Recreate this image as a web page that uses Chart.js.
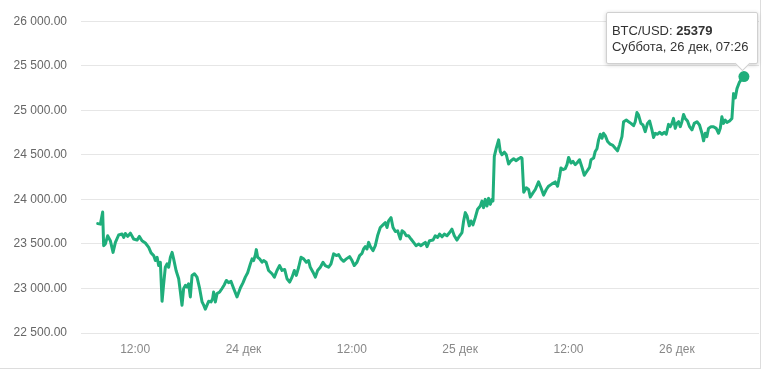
<!DOCTYPE html>
<html>
<head>
<meta charset="utf-8">
<script src="https://cdn.jsdelivr.net/npm/chart.js@4.4.0/dist/chart.umd.min.js"></script>
<style>
    html, body { margin: 0; padding: 0; background: #fff; }
    #wrap {
        position: relative;
        width: 760px;
        height: 368px;
        border-right: 1px solid #ddd;
        border-bottom: 1px solid #ddd;
    }
    #tip {
        position: absolute;
        box-sizing: border-box;
        width: 152px;
        padding: 10px 5px 8px 5px;
        background: #fff;
        border: 1px solid #d0d0d0;
        border-radius: 2px;
        box-shadow: 0 1px 4px rgba(0, 0, 0, 0.2);
        font: 13px "Liberation Sans", Arial, sans-serif;
        line-height: 16px;
        color: #333;
        white-space: nowrap;
    }
    #tip::after {
        content: "";
        position: absolute;
        right: 9px;
        bottom: -6px;
        width: 10px;
        height: 10px;
        background: #fff;
        border-right: 1px solid #d0d0d0;
        border-bottom: 1px solid #d0d0d0;
        transform: rotate(45deg);
    }
</style>
</head>
<body>
<div id="wrap">
    <canvas id="btcChart" width="760" height="368"></canvas>
    <div id="tip"></div>
</div>
<script>
// ore dal 23 dic 00:00
const hours = [
    7.85, 8.15, 8.40, 8.51, 8.70, 8.95, 9.25, 9.55, 9.81, 10.17,
    10.55, 10.73, 10.91, 11.17, 11.47, 11.83, 12.21, 12.47, 12.76, 13.13,
    13.50, 13.76, 14.05, 14.24, 14.43, 14.60, 14.79, 14.98, 15.16, 15.34,
    15.53, 15.71, 15.90, 16.09, 16.26, 16.53, 16.82, 17.01, 17.19, 17.37,
    17.56, 17.75, 17.92, 18.11, 18.30, 18.56, 18.85, 19.14, 19.41, 19.59,
    19.77, 19.96, 20.14, 20.41, 20.58, 20.69, 20.88, 21.07, 21.36, 21.62,
    21.88, 22.10, 22.35, 22.62, 22.91, 23.28, 23.65, 23.95, 24.20, 24.46,
    24.76, 24.95, 25.12, 25.31, 25.42, 25.57, 25.79, 26.05, 26.23, 26.50,
    26.78, 27.16, 27.42, 27.71, 28.00, 28.27, 28.56, 28.82, 29.11, 29.38,
    29.63, 29.85, 30.11, 30.37, 30.66, 30.96, 31.21, 31.40, 31.70, 31.96,
    32.21, 32.51, 32.81, 33.06, 33.43, 33.69, 33.98, 34.28, 34.54, 34.80,
    35.09, 35.39, 35.75, 36.02, 36.27, 36.57, 36.86, 37.13, 37.30, 37.49,
    37.68, 37.86, 38.05, 38.35, 38.60, 38.85, 39.15, 39.45, 39.71, 39.90,
    40.07, 40.34, 40.56, 40.82, 41.07, 41.37, 41.56, 41.81, 42.03, 42.29,
    42.55, 42.84, 43.11, 43.40, 43.66, 43.88, 44.14, 44.33, 44.61, 44.99,
    45.24, 45.50, 45.72, 45.99, 46.24, 46.54, 46.83, 47.09, 47.35, 47.65,
    47.94, 48.20, 48.38, 48.57, 48.76, 49.01, 49.20, 49.42, 49.67, 49.93,
    50.23, 50.42, 50.59, 50.78, 50.97, 51.15, 51.34, 51.52, 51.63, 51.78,
    52.00, 52.26, 52.44, 52.63, 52.89, 53.11, 53.36, 53.63, 53.92, 54.21,
    54.47, 54.74, 54.85, 55.04, 55.32, 55.58, 55.77, 56.06, 56.32, 56.68,
    56.95, 57.24, 57.54, 57.79, 58.17, 58.53, 58.79, 59.01, 59.16, 59.39,
    59.64, 59.83, 60.01, 60.27, 60.49, 60.75, 60.94, 61.22, 61.49, 61.75,
    62.04, 62.33, 62.49, 62.78, 62.96, 63.15, 63.33, 63.52, 63.71, 63.88,
    64.07, 64.33, 64.62, 64.92, 65.18, 65.43, 65.65, 65.92, 66.10, 66.40,
    66.65, 66.92, 67.21, 67.39, 67.58, 67.76, 68.02, 68.25, 68.50, 68.75,
    68.98, 69.24, 69.42, 69.61, 69.86, 70.08, 70.35, 70.60, 70.83, 71.08,
    71.27, 71.46, 71.63, 71.82, 72.01, 72.19, 72.38, 72.56, 72.74, 72.93,
    73.18, 73.41, 73.67, 73.93, 74.23, 74.51, 74.78, 74.96, 75.15, 75.33,
    75.51, 75.78, 76.06, 76.36, 76.62, 76.81, 76.99, 77.17, 77.36, 77.55,
    77.84, 78.10, 78.28, 78.47, 78.66, 78.94, 79.32, 79.43
];

const prices = [
    23728, 23722, 23859, 23480, 23500, 23591, 23536, 23405, 23517, 23600,
    23611, 23573, 23617, 23584, 23621, 23555, 23543, 23584, 23536, 23510,
    23461, 23399, 23369, 23313, 23350, 23257, 23294, 22856, 23053, 23238,
    23276, 23238, 23350, 23405, 23332, 23202, 23109, 22960, 22812, 23000,
    23034, 23016, 23053, 22905, 23146, 23165, 23127, 23000, 22849, 22812,
    22767, 22812, 22856, 22849, 22886, 22960, 22849, 22942, 22960, 23000,
    23042, 23090, 23065, 23079, 23000, 22905, 23005, 23065, 23127, 23176,
    23276, 23332, 23313, 23376, 23436, 23350, 23332, 23294, 23313, 23294,
    23202, 23165, 23127, 23202, 23257, 23202, 23213, 23109, 23071, 23127,
    23202, 23146, 23238, 23350, 23332, 23294, 23313, 23238, 23183, 23127,
    23202, 23238, 23294, 23257, 23238, 23276, 23388, 23369, 23380, 23332,
    23305, 23332, 23357, 23313, 23257, 23294, 23369, 23394, 23443, 23469,
    23443, 23517, 23469, 23424, 23480, 23591, 23684, 23714, 23740, 23684,
    23758, 23795, 23684, 23639, 23647, 23555, 23647, 23628, 23591, 23591,
    23555, 23517, 23480, 23499, 23480, 23499, 23517, 23469, 23536, 23543,
    23591, 23573, 23610, 23580, 23610, 23591, 23628, 23666, 23591, 23543,
    23591, 23628, 23758, 23851, 23814, 23703, 23758, 23714, 23795, 23889,
    23925, 23981, 23907, 24000, 23925, 24011, 23944, 24000, 23981, 24482,
    24575, 24668, 24538, 24501, 24530, 24501, 24397, 24434, 24456, 24434,
    24456, 24471, 24460, 24080, 24130, 24111, 24026, 24073, 24111, 24196,
    24130, 24048, 24111, 24148, 24174, 24196, 24148, 24259, 24352, 24334,
    24345, 24390, 24471, 24408, 24427, 24390, 24408, 24445, 24360, 24271,
    24316, 24360, 24445, 24464, 24538, 24568, 24668, 24731, 24686, 24742,
    24716, 24649, 24619, 24605, 24575, 24545, 24612, 24705, 24872, 24890,
    24872, 24853, 24827, 24872, 24976, 24946, 24853, 24835, 24760, 24853,
    24880, 24780, 24694, 24742, 24731, 24753, 24731, 24753, 24731, 24842,
    24816, 24853, 24909, 24797, 24853, 24872, 24816, 24872, 24953, 24909,
    24880, 24816, 24780, 24853, 24872, 24835, 24742, 24657, 24742, 24705,
    24797, 24816, 24816, 24797, 24742, 24797, 24927, 24853, 24890, 24864,
    24880, 24909, 25187, 25139, 25243, 25317, 25373, 25379
];

const tickHours = [12, 24, 36, 48, 60, 72];
const tickLabels = ["12:00", "24 дек", "12:00", "25 дек", "12:00", "26 дек"];
const priceTicks = [22500, 23000, 23500, 24000, 24500, 25000, 25500, 26000];

const seriesName = "BTC/USD";
const lastDate = "Суббота, 26 дек, 07:26";

const FONT = "'Liberation Sans', Arial, sans-serif";
const GREEN = "#1fae7b";

// Formatta il prezzo: 26 000.00
function formatPrice(v) {
    const th = Math.floor(v / 1000);
    const rest = String(v % 1000).padStart(3, "0");
    return th + " " + rest + ".00";
}

const lastIdx = prices.length - 1;
const points = hours.map((h, i) => ({ x: h, y: prices[i] }));

const chart = new Chart(document.getElementById("btcChart"), {
    type: "line",
    data: {
        datasets: [{
            label: seriesName,
            data: points,
            borderColor: GREEN,
            backgroundColor: GREEN,
            borderWidth: 3,
            borderJoinStyle: "round",
            borderCapStyle: "round",
            tension: 0,
            pointRadius: ctx => ctx.dataIndex === lastIdx ? 5.5 : 0,
            pointHoverRadius: ctx => ctx.dataIndex === lastIdx ? 5.5 : 0,
            pointBorderWidth: 0,
            pointBackgroundColor: GREEN,
            clip: false
        }]
    },
    options: {
        responsive: false,
        animation: false,
        events: [],
        layout: {
            autoPadding: false,
            padding: { top: 19, right: 1, left: 0, bottom: 0 }
        },
        plugins: {
            legend: { display: false },
            tooltip: { enabled: false }
        },
        scales: {
            x: {
                type: "linear",
                min: 6,
                max: 81.1,
                grid: { display: false },
                border: { display: false },
                afterBuildTicks: axis => { axis.ticks = tickHours.map(v => ({ value: v })); },
                afterFit: axis => { axis.height = 35; },
                ticks: {
                    autoSkip: false,
                    maxRotation: 0,
                    padding: 1,
                    color: "#888",
                    font: { family: FONT, size: 12 },
                    callback: (v, i) => tickLabels[i]
                }
            },
            y: {
                min: 22500,
                max: 26000,
                afterBuildTicks: axis => { axis.ticks = priceTicks.map(v => ({ value: v })); },
                afterFit: axis => { axis.width = 81; },
                grid: { color: "#e6e6e6", drawTicks: false },
                border: { display: false },
                ticks: {
                    padding: 14,
                    color: "#666",
                    font: { family: FONT, size: 12 },
                    callback: v => formatPrice(v)
                }
            }
        }
    }
});

// Tooltip fisso sull'ultimo punto
const tip = document.getElementById("tip");
tip.innerHTML = seriesName + ": <b>" + prices[lastIdx] + "</b><br>" + lastDate;
const px = chart.scales.x.getPixelForValue(hours[lastIdx]);
const py = chart.scales.y.getPixelForValue(prices[lastIdx]);
tip.style.left = (px + 14 - tip.offsetWidth) + "px";
tip.style.top = (py - 13 - tip.offsetHeight) + "px";
</script>
</body>
</html>
